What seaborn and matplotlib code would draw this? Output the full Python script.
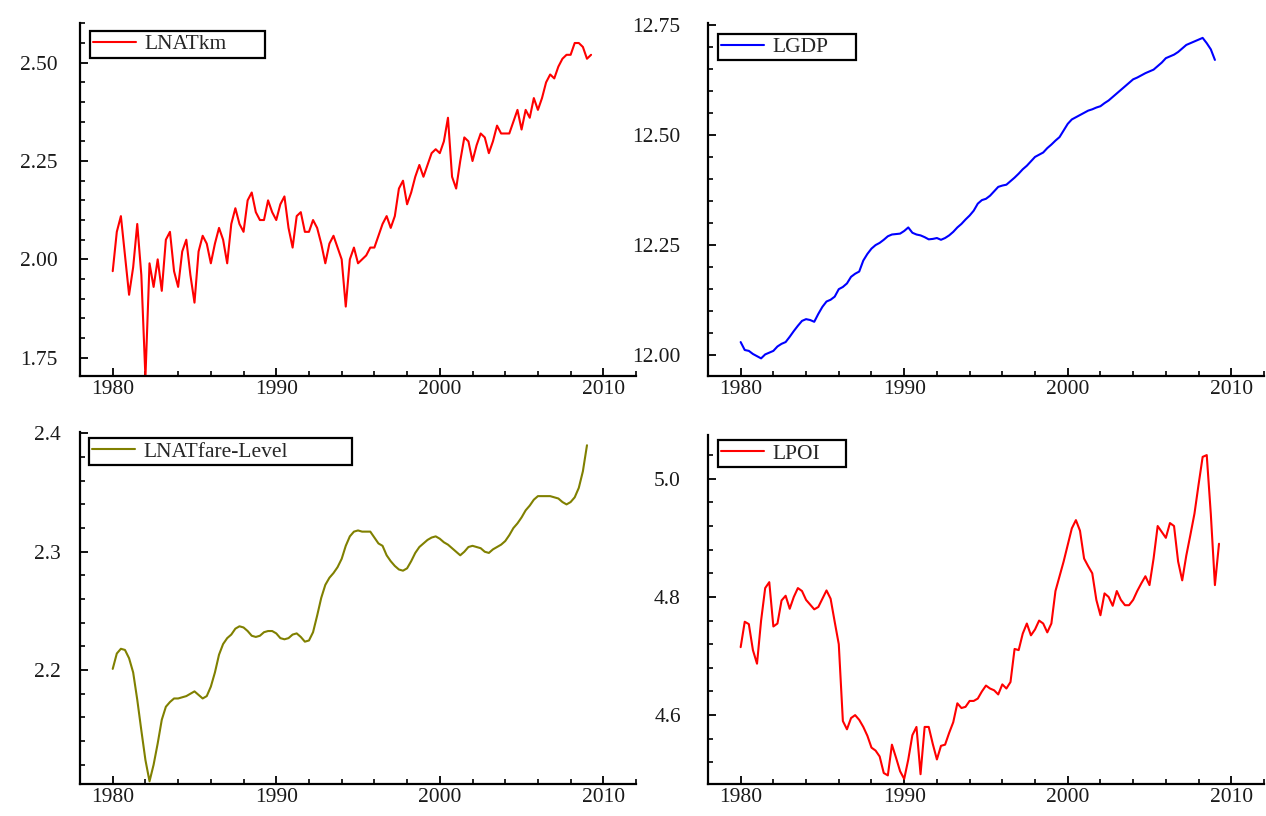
import numpy as np
import matplotlib
matplotlib.use("Agg")
import matplotlib.pyplot as plt
import seaborn as sns
from matplotlib.ticker import MultipleLocator, FormatStrFormatter

# quarterly series, 1980Q1 onwards
lnatkm = [1.97, 2.07, 2.11, 2.01, 1.91, 1.98, 2.09, 1.96, 1.70, 1.99, 1.93, 2.00,
          1.92, 2.05, 2.07, 1.97, 1.93, 2.02, 2.05, 1.96, 1.89, 2.02, 2.06, 2.04,
          1.99, 2.04, 2.08, 2.05, 1.99, 2.09, 2.13, 2.09, 2.07, 2.15, 2.17, 2.12,
          2.10, 2.10, 2.15, 2.12, 2.10, 2.14, 2.16, 2.08, 2.03, 2.11, 2.12, 2.07,
          2.07, 2.10, 2.08, 2.04, 1.99, 2.04, 2.06, 2.03, 2.00, 1.88, 2.00, 2.03,
          1.99, 2.00, 2.01, 2.03, 2.03, 2.06, 2.09, 2.11, 2.08, 2.11, 2.18, 2.20,
          2.14, 2.17, 2.21, 2.24, 2.21, 2.24, 2.27, 2.28, 2.27, 2.30, 2.36, 2.21,
          2.18, 2.25, 2.31, 2.30, 2.25, 2.29, 2.32, 2.31, 2.27, 2.30, 2.34, 2.32,
          2.32, 2.32, 2.35, 2.38, 2.33, 2.38, 2.36, 2.41, 2.38, 2.41, 2.45, 2.47,
          2.46, 2.49, 2.51, 2.52, 2.52, 2.55, 2.55, 2.54, 2.51, 2.52]

lgdp = [12.030, 12.012, 12.010, 12.003, 11.998, 11.993, 12.002, 12.006,
        12.010, 12.020, 12.026, 12.030, 12.042, 12.055, 12.067, 12.078,
        12.082, 12.080, 12.076, 12.094, 12.110, 12.122, 12.126, 12.133,
        12.150, 12.155, 12.163, 12.178, 12.185, 12.190, 12.215, 12.230,
        12.242, 12.250, 12.255, 12.262, 12.270, 12.274, 12.275, 12.276,
        12.282, 12.290, 12.278, 12.274, 12.272, 12.268, 12.263, 12.264,
        12.266, 12.262, 12.266, 12.272, 12.280, 12.290, 12.298, 12.308,
        12.317, 12.328, 12.344, 12.352, 12.355, 12.362, 12.372, 12.382,
        12.385, 12.387, 12.395, 12.403, 12.412, 12.422, 12.430, 12.440,
        12.450, 12.455, 12.460, 12.470, 12.478, 12.487, 12.495, 12.510,
        12.525, 12.535, 12.540, 12.545, 12.550, 12.555, 12.558, 12.562,
        12.565, 12.572, 12.578, 12.586, 12.594, 12.602, 12.610, 12.618,
        12.626, 12.630, 12.635, 12.640, 12.644, 12.648, 12.656, 12.664,
        12.674, 12.678, 12.682, 12.688, 12.696, 12.704, 12.708, 12.712,
        12.716, 12.720, 12.708, 12.694, 12.670]

lnatfare = [2.201, 2.214, 2.218, 2.217, 2.210, 2.198, 2.175, 2.149,
            2.124, 2.106, 2.120, 2.138, 2.158, 2.169, 2.173, 2.176,
            2.176, 2.177, 2.178, 2.180, 2.182, 2.179, 2.176, 2.178,
            2.186, 2.198, 2.213, 2.222, 2.227, 2.230, 2.235, 2.237,
            2.236, 2.233, 2.229, 2.228, 2.229, 2.232, 2.233, 2.233,
            2.231, 2.227, 2.226, 2.227, 2.230, 2.231, 2.228, 2.224,
            2.225, 2.232, 2.246, 2.261, 2.272, 2.278, 2.282, 2.287,
            2.294, 2.305, 2.313, 2.317, 2.318, 2.317, 2.317, 2.317,
            2.312, 2.307, 2.305, 2.297, 2.292, 2.288, 2.285, 2.284,
            2.286, 2.292, 2.299, 2.304, 2.307, 2.310, 2.312, 2.313,
            2.311, 2.308, 2.306, 2.303, 2.300, 2.297, 2.300, 2.304,
            2.305, 2.304, 2.303, 2.300, 2.299, 2.302, 2.304, 2.306,
            2.309, 2.314, 2.320, 2.324, 2.329, 2.335, 2.339, 2.344,
            2.347, 2.347, 2.347, 2.347, 2.346, 2.345, 2.342, 2.340,
            2.342, 2.346, 2.354, 2.368, 2.390]

lpoi = [4.715, 4.758, 4.754, 4.710, 4.687, 4.760, 4.815, 4.825,
        4.750, 4.755, 4.794, 4.802, 4.780, 4.800, 4.815, 4.810,
        4.795, 4.787, 4.779, 4.783, 4.797, 4.811, 4.797, 4.758,
        4.720, 4.590, 4.576, 4.595, 4.600, 4.592, 4.580, 4.565,
        4.545, 4.540, 4.530, 4.502, 4.498, 4.550, 4.528, 4.505,
        4.492, 4.525, 4.566, 4.580, 4.500, 4.580, 4.580, 4.551,
        4.525, 4.548, 4.550, 4.570, 4.588, 4.620, 4.612, 4.614,
        4.624, 4.624, 4.628, 4.640, 4.650, 4.645, 4.642, 4.635,
        4.652, 4.645, 4.656, 4.712, 4.710, 4.738, 4.755, 4.735,
        4.745, 4.760, 4.755, 4.740, 4.755, 4.810, 4.835, 4.860,
        4.888, 4.916, 4.930, 4.912, 4.865, 4.852, 4.840, 4.795,
        4.769, 4.806, 4.800, 4.785, 4.810, 4.795, 4.786, 4.786,
        4.795, 4.810, 4.823, 4.835, 4.820, 4.865, 4.920, 4.910,
        4.900, 4.925, 4.920, 4.860, 4.828, 4.870, 4.905, 4.941,
        4.990, 5.037, 5.040, 4.940, 4.820, 4.890]

names = ["LNATkm", "LGDP", "LNATfare-Level", "LPOI"]
colors = ["#ff0000", "#0000ff", "#808000", "#ff0000"]

sns.set_style("ticks")
plt.rcParams["font.family"] = ["Liberation Serif", "DejaVu Serif"]

fig = plt.figure(figsize=(12.66, 8.16), dpi=100)

# panel settings: axes rect, ylim, major/minor y step, label format, ypad, legend box
panels = [
    ([0.0632, 0.5392, 0.4392, 0.4322], (1.7035, 2.60), 0.25, 0.05, "%.2f", 16, (0.018, 0.978, 0.314)),
    ([0.5592, 0.5392, 0.4392, 0.4322], (11.953, 12.753), 0.25, 0.05, "%.2f", 20, (0.018, 0.970, 0.249)),
    ([0.0632, 0.0389, 0.4392, 0.4314], (2.1035, 2.401), 0.1, 0.02, "%.1f", 14, (0.016, 0.983, 0.474)),
    ([0.5592, 0.0389, 0.4392, 0.4280], (4.483, 5.074), 0.2, 0.04, "%.1f", 19.5, (0.018, 0.985, 0.231)),
]
series = [lnatkm, lgdp, lnatfare, lpoi]

for vals, name, col, (rect, ylim, ymaj, ymin, fmt, ypad, lbox) in zip(series, names, colors, panels):
    ax = fig.add_axes(rect)
    years = 1980 + np.arange(len(vals)) / 4
    sns.lineplot(x=years, y=vals, ax=ax, color=col, linewidth=1.5, label=name)
    ax.set_xlim(1978.0, 2012.0)
    ax.set_ylim(*ylim)
    ax.xaxis.set_major_locator(MultipleLocator(10))
    ax.xaxis.set_minor_locator(MultipleLocator(2))
    ax.yaxis.set_major_locator(MultipleLocator(ymaj))
    ax.yaxis.set_minor_locator(MultipleLocator(ymin))
    ax.yaxis.set_major_formatter(FormatStrFormatter(fmt))
    for s in ["top", "right"]:
        ax.spines[s].set_visible(False)
    for s in ["left", "bottom"]:
        ax.spines[s].set_linewidth(1.6)
        ax.spines[s].set_color("black")
    ax.tick_params(which="major", direction="in", length=6, width=1.3, colors="black",
                   labelsize=15.5, labelcolor="#1a1a1a")
    ax.tick_params(which="minor", direction="in", length=3.5, width=1.2, colors="black")
    ax.tick_params(axis="x", which="major", pad=3)
    ax.tick_params(axis="y", which="major", pad=ypad)
    ax.set_xlabel("")
    ax.set_ylabel("")
    x0, top, w = lbox
    leg = ax.legend(loc="upper left", bbox_to_anchor=(x0, top - 0.1, w, 0.1), mode="expand",
                    borderaxespad=0, frameon=True, fancybox=False, framealpha=1,
                    edgecolor="black", fontsize=15.5, handlelength=2.0,
                    handletextpad=0.4, borderpad=0.15)
    leg.get_frame().set_linewidth(1.6)
    ax.grid(False)

fig.savefig("out.png", dpi=100)
